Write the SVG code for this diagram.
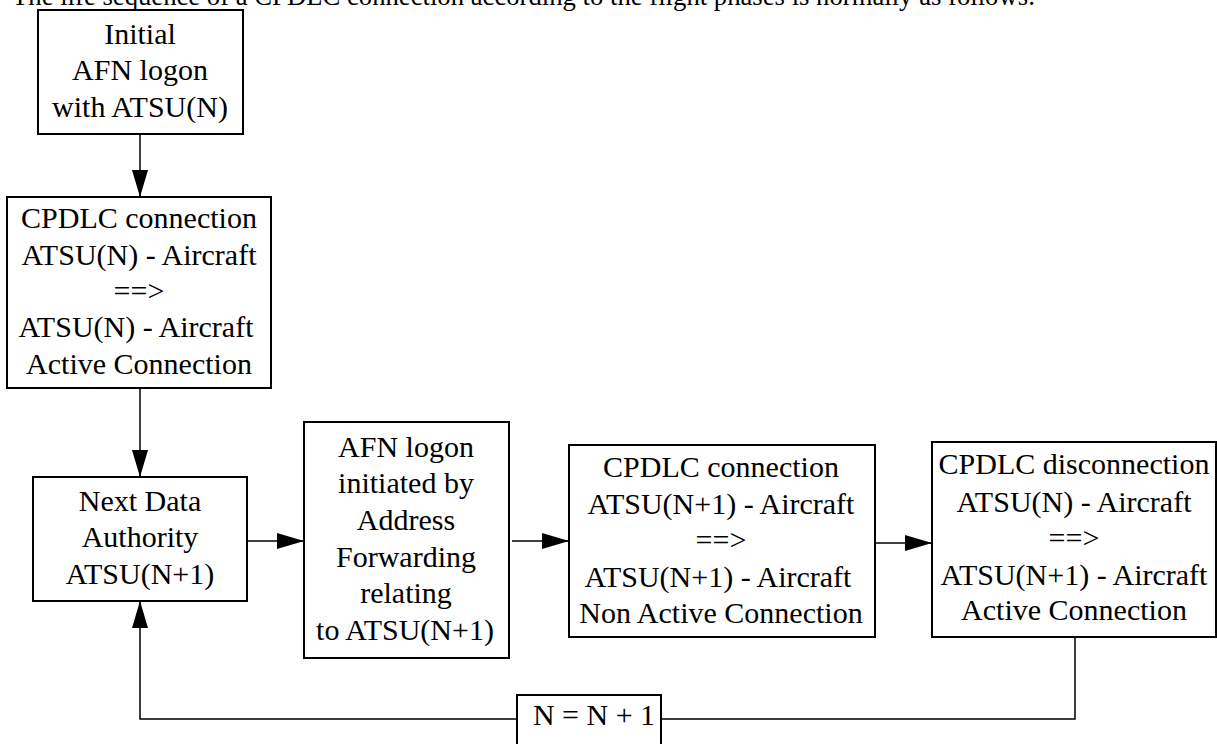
<svg xmlns="http://www.w3.org/2000/svg" width="1217" height="744" viewBox="0 0 1217 744">
<style>
  .box { fill: #ffffff; stroke: #000000; stroke-width: 2; }
  .t { font-size: 30px; text-anchor: middle; fill: #000000; }
  .title { font-size: 26.7px; fill: #000000; }
  .conn { fill: none; stroke: #000000; stroke-width: 1.5; }
</style>
<defs>
  <marker id="arrow" markerUnits="userSpaceOnUse" markerWidth="28" markerHeight="16" refX="27" refY="8" orient="auto">
    <path d="M0,0 L27,8 L0,16 z" fill="#000000"/>
  </marker>
</defs>
<rect width="1217" height="744" fill="#ffffff"/>
<text class="title" font-family="Liberation Serif, serif" x="12" y="5">The life sequence of a CPDLC connection according to the flight phases is normally as follows:</text>

<g id="connectors">
  <path class="conn" d="M140,134 V197" marker-end="url(#arrow)"/>
  <path class="conn" d="M140,388 V477" marker-end="url(#arrow)"/>
  <path class="conn" d="M247,541 H304" marker-end="url(#arrow)"/>
  <path class="conn" d="M512,541 H569" marker-end="url(#arrow)"/>
  <path class="conn" d="M875,543 H932" marker-end="url(#arrow)"/>
  <path class="conn" d="M1075,637 V719 H140 V601" marker-end="url(#arrow)"/>
</g>

<g id="node-initial" font-family="Liberation Serif, serif">
  <rect class="box" x="38" y="10" width="205" height="124"/>
  <text class="t" x="140" y="44">Initial</text>
  <text class="t" x="140" y="80">AFN logon</text>
  <text class="t" x="140" y="117">with ATSU(N)</text>
</g>

<g id="node-cpdlc-n" font-family="Liberation Serif, serif">
  <rect class="box" x="7" y="197" width="264" height="191"/>
  <text class="t" x="139" y="228">CPDLC connection</text>
  <text class="t" x="139" y="265">ATSU(N) - Aircraft</text>
  <text class="t" x="139" y="301">==&gt;</text>
  <text class="t" x="136" y="337">ATSU(N) - Aircraft</text>
  <text class="t" x="139" y="374">Active Connection</text>
</g>

<g id="node-next" font-family="Liberation Serif, serif">
  <rect class="box" x="33" y="477" width="214" height="124"/>
  <text class="t" x="140" y="511">Next Data</text>
  <text class="t" x="140" y="547">Authority</text>
  <text class="t" x="140" y="584">ATSU(N+1)</text>
</g>

<g id="node-afn" font-family="Liberation Serif, serif">
  <rect class="box" x="304" y="422" width="205" height="236"/>
  <text class="t" x="406" y="457">AFN logon</text>
  <text class="t" x="406" y="493">initiated by</text>
  <text class="t" x="406" y="530">Address</text>
  <text class="t" x="406" y="567">Forwarding</text>
  <text class="t" x="406" y="603">relating</text>
  <text class="t" x="405" y="640">to ATSU(N+1)</text>
</g>

<g id="node-cpdlc-n1" font-family="Liberation Serif, serif">
  <rect class="box" x="569" y="445" width="306" height="192"/>
  <text class="t" x="721" y="477">CPDLC connection</text>
  <text class="t" x="721" y="514">ATSU(N+1) - Aircraft</text>
  <text class="t" x="721" y="550">==&gt;</text>
  <text class="t" x="718" y="587">ATSU(N+1) - Aircraft</text>
  <text class="t" x="721" y="623">Non Active Connection</text>
</g>

<g id="node-disconnect" font-family="Liberation Serif, serif">
  <rect class="box" x="932" y="442" width="284" height="195"/>
  <text class="t" x="1074" y="474">CPDLC disconnection</text>
  <text class="t" x="1074" y="512">ATSU(N) - Aircraft</text>
  <text class="t" x="1074" y="548">==&gt;</text>
  <text class="t" x="1074" y="585">ATSU(N+1) - Aircraft</text>
  <text class="t" x="1074" y="620">Active Connection</text>
</g>

<g id="node-increment" font-family="Liberation Serif, serif">
  <rect class="box" x="517" y="695" width="144" height="70"/>
  <text class="t" x="594" y="725">N = N + 1</text>
</g>
</svg>
